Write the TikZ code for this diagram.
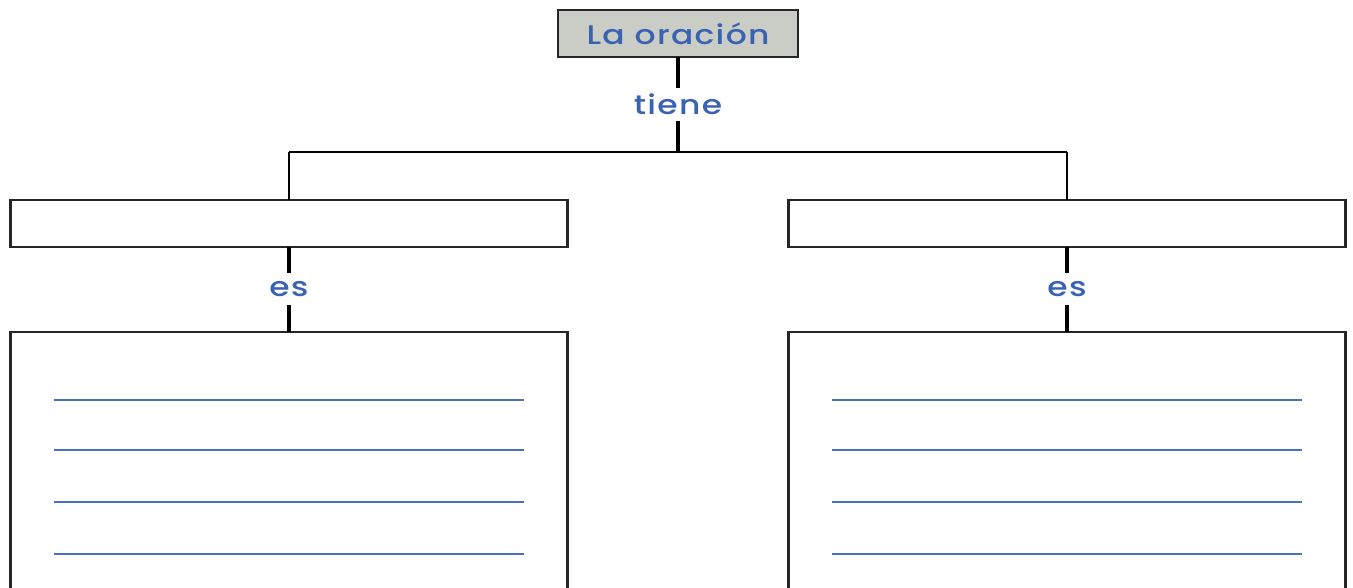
\documentclass[tikz,border=0pt]{standalone}
\usepackage{fontspec}
\usepackage{graphicx}
\setmainfont{Poppins Medium}[LetterSpace=4]
\definecolor{txtblue}{RGB}{58,98,178}
\definecolor{lineblue}{RGB}{72,112,192}
\definecolor{boxgray}{RGB}{202,205,198}
\newcommand{\wtext}[1]{\scalebox{1.22}[1]{#1}}
\tikzset{
  box/.style={draw=black!85, line width=2.4pt, rectangle, inner sep=0pt, outer sep=0pt},
  lbl/.style={inner sep=0pt, outer sep=0pt, text=txtblue, font=\fontsize{27}{30}\selectfont},
  conn/.style={draw=black, line width=3.4pt},
  hconn/.style={draw=black, line width=2pt},
  wline/.style={draw=lineblue, line width=1.6pt}
}
\begin{document}
\begin{tikzpicture}[x=1pt,y=-1pt]
\useasboundingbox (0,0) rectangle (1353,587);
\clip (0,0) rectangle (1353,587);
% top
\node[box, fill=boxgray, minimum width=240pt, minimum height=47pt, text=txtblue, font=\fontsize{27}{30}\selectfont] (top) at (678,33.5) {\wtext{La oración}};
\node[lbl, minimum height=33pt] (tiene) at (678,104.5) {\wtext{tiene}};
\coordinate (junc) at (678,152);
\coordinate (jl) at (289,152);
\coordinate (jr) at (1067,152);
% middle boxes
\node[box, fill=white, minimum width=557pt, minimum height=47pt] (ml) at (289,223.5) {};
\node[box, fill=white, minimum width=557pt, minimum height=47pt] (mr) at (1067,223.5) {};
% es labels
\node[lbl, minimum height=32pt] (esl) at (289,289) {\wtext{es}};
\node[lbl, minimum height=32pt] (esr) at (1067,289) {\wtext{es}};
% bottom boxes
\node[box, fill=white, minimum width=557pt, minimum height=400pt, anchor=north] (bl) at (289,332) {};
\node[box, fill=white, minimum width=557pt, minimum height=400pt, anchor=north] (br) at (1067,332) {};
% writing lines
\foreach \y in {400,450,502,554} {
  \draw[wline] (54,\y) -- (524,\y);
  \draw[wline] (832,\y) -- (1302,\y);
}
% connectors
\draw[conn] (top.south) -- (tiene.north);
\draw[conn] (tiene.south) -- (junc);
\draw[hconn] (jl) -- (jr);
\draw[hconn] (jl) -- (ml.north);
\draw[hconn] (jr) -- (mr.north);
\draw[conn] (ml.south) -- (esl.north);
\draw[conn] (esl.south) -- (bl.north);
\draw[conn] (mr.south) -- (esr.north);
\draw[conn] (esr.south) -- (br.north);
\end{tikzpicture}
\end{document}
